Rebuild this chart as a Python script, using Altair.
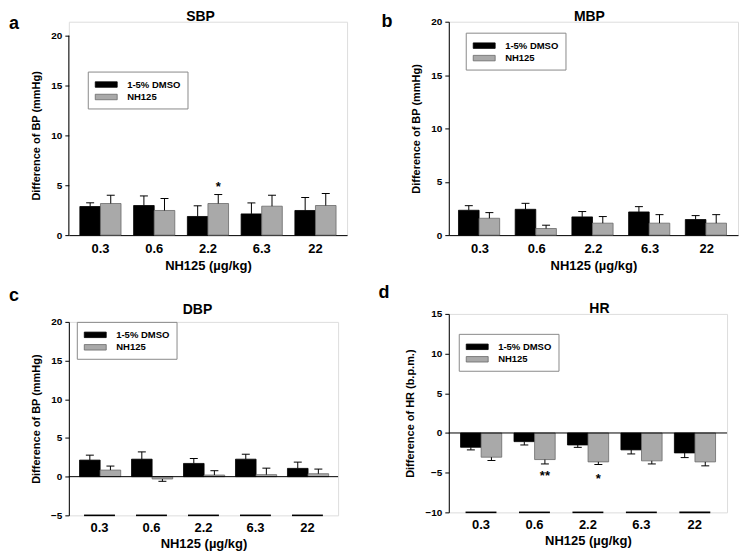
import altair as alt
import pandas as pd

FONT = "Liberation Sans"

doses = ["0.3", "0.6", "2.2", "6.3", "22"]
series = ["1-5% DMSO", "NH125"]

sbp_dmso = [2.87, 2.97, 1.87, 2.13, 2.47]
sbp_dmso_err = [0.37, 0.96, 1.07, 1.10, 1.30]
sbp_nh = [3.17, 2.47, 3.17, 2.90, 2.97]
sbp_nh_err = [0.83, 1.20, 0.90, 1.10, 1.20]

mbp_dmso = [2.33, 2.42, 1.71, 2.17, 1.46]
mbp_dmso_err = [0.43, 0.56, 0.50, 0.50, 0.37]
mbp_nh = [1.58, 0.62, 1.12, 1.12, 1.12]
mbp_nh_err = [0.53, 0.31, 0.62, 0.80, 0.80]

dbp_dmso = [2.14, 2.26, 1.71, 2.26, 1.07]
dbp_dmso_err = [0.64, 0.94, 0.64, 0.64, 0.81]
dbp_nh = [0.85, -0.30, 0.21, 0.26, 0.38]
dbp_nh_err = [0.52, 0.30, 0.56, 0.84, 0.60]

hr_dmso = [-1.80, -1.09, -1.51, -2.13, -2.51]
hr_dmso_err = [0.33, 0.42, 0.30, 0.51, 0.59]
hr_nh = [-3.05, -3.35, -3.64, -3.51, -3.64]
hr_nh_err = [0.42, 0.55, 0.33, 0.39, 0.50]

sbp_sig = [("2.2", "NH125", "*", 5.1)]
hr_sig = [("0.6", "NH125", "**", -5.0), ("2.2", "NH125", "*", -5.45)]

fill_range = ["#000000", "#a9a9a9"]
stroke_range = ["#000000", "#6a6a6a"]


def make_df(dmso, dmso_err, nh, nh_err):
    rows = []
    for s, vals, errs in ((series[0], dmso, dmso_err), (series[1], nh, nh_err)):
        for d, v, e in zip(doses, vals, errs):
            end = v + e if v >= 0 else v - e
            rows.append({"dose": d, "series": s, "value": v, "end": end})
    return pd.DataFrame(rows)


def label_mark(text, xy, size):
    return alt.Chart(pd.DataFrame({"t": [text]})).mark_text(
        font=FONT, fontSize=size, fontWeight="bold", color="black",
        align="center", baseline="middle").encode(
        x=alt.value(xy[0]), y=alt.value(xy[1]), text="t:N")


def panel(title, letter, ytitle, dmso, dmso_err, nh, nh_err, domain, ticks,
          width, height, pin, pout, title_xy, legend_xy, letter_xy, broken, sig,
          axis_top=None, title_y=None):
    df = make_df(dmso, dmso_err, nh, nh_err)
    xaxis = alt.Axis(title="NH125 (\u00b5g/kg)", labelAngle=0, ticks=False,
                     tickSize=0, domain=not broken, domainColor="black",
                     labelFont=FONT, labelFontSize=13, labelFontWeight="bold",
                     labelColor="black", labelPadding=7 if not broken else 6,
                     titleFont=FONT, titleFontSize=13, titleFontWeight="bold",
                     titleColor="black", titlePadding=4 if not broken else 3)
    ykw = dict(title=ytitle, values=ticks, grid=False, domainColor="black",
               domain=axis_top is None,
               tickColor="black", tickSize=4, labelFont=FONT,
               labelFontSize=10, labelFontWeight="bold", labelColor="black",
               labelPadding=3, titleFont=FONT, titleFontSize=11,
               titleFontWeight="bold", titleColor="black", titlePadding=9)
    if title_y is not None:
        ykw["titleY"] = title_y
    yaxis = alt.Axis(**ykw)
    xs = alt.Scale(domain=doses, paddingInner=pin, paddingOuter=pout)
    ys = alt.Scale(domain=domain, nice=False, zero=False)
    X = alt.X("dose:N", sort=doses, scale=xs, axis=xaxis)
    XO = alt.XOffset("series:N", sort=series,
                     scale=alt.Scale(domain=series, paddingInner=0, paddingOuter=0))
    legend = alt.Legend(title=None, orient="none", legendX=legend_xy[0],
                        legendY=legend_xy[1], direction="vertical",
                        symbolType="M-2,-0.5L2,-0.5L2,0.5L-2,0.5Z",
                        symbolSize=121, symbolStrokeWidth=0.8, symbolOpacity=1,
                        symbolOffset=5.5,
                        labelFont=FONT, labelFontSize=9.5, labelFontWeight="bold",
                        labelColor="black", labelOffset=15, padding=7,
                        rowPadding=1.5, strokeColor="#8a8a8a", fillColor="white")
    bars = alt.Chart(df).mark_bar(strokeWidth=0.8, opacity=1).encode(
        x=X, xOffset=XO,
        y=alt.Y("value:Q", scale=ys, axis=yaxis),
        fill=alt.Fill("series:N", sort=series,
                      scale=alt.Scale(domain=series, range=fill_range), legend=legend),
        stroke=alt.Stroke("series:N", sort=series,
                          scale=alt.Scale(domain=series, range=stroke_range), legend=legend),
    )
    whisk = alt.Chart(df).mark_rule(color="black", strokeWidth=1).encode(
        x=X, xOffset=XO, y=alt.Y("value:Q", scale=ys, axis=yaxis), y2="end:Q")
    caps = alt.Chart(df).mark_tick(color="black", size=8, thickness=1, opacity=1).encode(
        x=X, xOffset=XO, y=alt.Y("end:Q", scale=ys, axis=yaxis))
    layers = [bars, whisk, caps]
    if axis_top is not None:
        yline = alt.Chart(pd.DataFrame({"y0": [domain[0]], "y1": [axis_top]})).mark_rule(
            color="black", strokeWidth=1).encode(
            x=alt.value(0), y=alt.Y("y0:Q", scale=ys, axis=yaxis), y2="y1:Q")
        layers.append(yline)
    if broken:
        zero = alt.Chart(pd.DataFrame({"z": [0]})).mark_rule(
            color="black", strokeWidth=1).encode(
            y=alt.Y("z:Q", scale=ys, axis=yaxis))
        seg = alt.Chart(pd.DataFrame({"dose": doses, "b": [domain[0]] * 5})).mark_tick(
            color="black", size=31, thickness=1.6, opacity=1).encode(
            x=X, y=alt.Y("b:Q", scale=ys, axis=yaxis))
        layers += [zero, seg]
    if sig:
        sdf = pd.DataFrame(sig, columns=["dose", "series", "label", "pos"])
        stars = alt.Chart(sdf).mark_text(font=FONT, fontSize=13, fontWeight="bold",
                                         color="black", baseline="middle", dy=3).encode(
            x=X, xOffset=XO, y=alt.Y("pos:Q", scale=ys, axis=yaxis), text="label:N")
        layers.append(stars)
    layers.append(label_mark(letter, letter_xy, 18))
    layers.append(label_mark(title, title_xy, 14))
    return alt.layer(*layers).properties(width=width, height=height)


a = panel("SBP", "a", "Difference of BP (mmHg)", sbp_dmso, sbp_dmso_err, sbp_nh,
          sbp_nh_err, [0, 21.4], [0, 5, 10, 15, 20], 279, 214, 0.234, 0.205,
          (132, -5), (19, 50), (-55, 2), False, sbp_sig, axis_top=20, title_y=114)
b = panel("MBP", "b", "Difference of BP  (mmHg)", mbp_dmso, mbp_dmso_err, mbp_nh,
          mbp_nh_err, [0, 20], [0, 5, 10, 15, 20], 290, 214, 0.242, 0.171,
          (141, -5), (17, 11), (-62, 0), False, None)
c = panel("DBP", "c", "Difference of BP (mmHg)", dbp_dmso, dbp_dmso_err, dbp_nh,
          dbp_nh_err, [-5, 20], [-5, 0, 5, 10, 15, 20], 270, 194, 0.232, 0.206,
          (129, -12), (8, 0), (-55, -26), True, None)
d = panel("HR", "d", "Difference of HR (b.p.m.)", hr_dmso, hr_dmso_err, hr_nh,
          hr_nh_err, [-10, 15], [-10, -5, 0, 5, 10, 15], 279, 199, 0.235, 0.22,
          (151, -5), (10, 20), (-65, -21), True, hr_sig)

ind = dict(fill="independent", stroke="independent", x="independent", y="independent")
col1 = alt.vconcat(a, c, spacing=13).resolve_scale(**ind)
col2 = alt.vconcat(b, d, spacing=10).resolve_scale(**ind)
chart = alt.hconcat(col1, col2, spacing=30).resolve_scale(**ind).properties(
    padding=0).configure_view(stroke=None).configure(background="white")

chart.save("out.html", embed_options={"renderer": "svg", "actions": False})
